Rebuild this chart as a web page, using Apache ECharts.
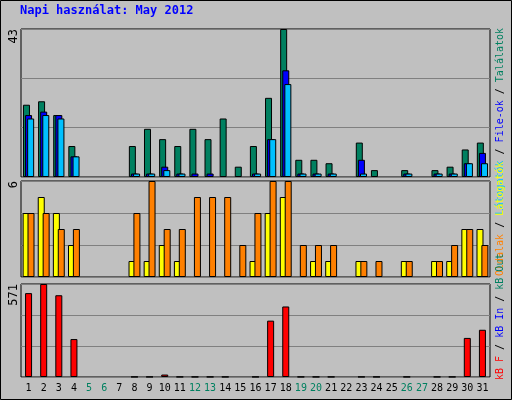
<!DOCTYPE html><html><head><meta charset="utf-8">
<script src="https://cdn.jsdelivr.net/npm/echarts@6/dist/echarts.min.js"></script>
<style>html,body{margin:0;padding:0;background:#c0c0c0}#c{width:512px;height:400px}</style></head><body><div id="c"></div>
<script>
const days=['1','2','3','4','5','6','7','8','9','10','11','12','13','14','15','16','17','18','19','20','21','22','23','24','25','26','27','28','29','30','31'];
const weekend=['5','6','12','13','19','20','26','27'];
const hits=[21,22,18,9,0,0,0,9,14,11,9,14,11,17,3,9,23,43,5,5,4,0,10,2,0,2,0,2,3,8,10];
const files=[18,19,18,6,0,0,0,1,1,3,1,1,1,0,0,1,11,31,1,1,1,0,5,0,0,1,0,1,1,4,7];
const sites=[17,18,17,6,0,0,0,1,1,2,1,0,0,0,0,1,11,27,1,1,1,0,1,0,0,1,0,1,1,4,4];
const visits=[4,5,4,2,0,0,0,1,1,2,1,0,0,0,0,1,4,5,0,1,1,0,1,0,0,1,0,1,1,3,3];
const pages=[4,4,3,3,0,0,0,4,6,3,3,5,5,5,2,4,6,6,2,2,2,0,1,1,0,1,0,1,2,3,2];
const kbytes=[515,571,502,233,0,0,0,1,1,15,1,1,1,1,0,1,346,433,1,1,1,0,1,1,0,1,0,1,1,240,290];
const ch=echarts.init(document.getElementById('c'));
const mono='DejaVu Sans Mono';
const L=21,R=22;
const grids=[{left:L,right:R,top:29,height:148},{left:L,right:R,top:181,height:96},{left:L,right:R,top:284,height:93}];
const maxes=[43,6,571];
function bar(data,color,gi,w,gap){return {type:'bar',data:data.map(v=>v===0?null:v),xAxisIndex:gi,yAxisIndex:gi,barWidth:w,barGap:gap,silent:true,
 itemStyle:{color:color,borderColor:'#000',borderWidth:1},animation:false};}
const rich={w:{color:'#008060',fontFamily:mono,fontSize:10},n:{color:'#000',fontFamily:mono,fontSize:10}};
ch.setOption({
 backgroundColor:'#c0c0c0',animation:false,
 grid:grids.map(g=>Object.assign({show:true,backgroundColor:'#c0c0c0',borderColor:'#000',borderWidth:1},g)),
 xAxis:[0,1,2].map(i=>({type:'category',gridIndex:i,data:days,axisLine:{show:false},axisTick:{show:false},
   axisLabel:i<2?{show:false}:{margin:6,interval:0,formatter:v=>weekend.includes(v)?'{w|'+v+'}':'{n|'+v+'}',rich:rich}})),
 yAxis:[0,1,2].map(i=>({type:'value',gridIndex:i,min:0,max:maxes[i],interval:maxes[i]/3,axisLabel:{show:false},
   axisLine:{show:false},axisTick:{show:false},splitLine:{lineStyle:{color:'#808080',width:1}}})),
 series:[bar(hits,'#008060',0,7,'-70%'),bar(files,'#0000ff',0,7,'-70%'),bar(sites,'#00c0ff',0,7,'-70%'),
  bar(visits,'#ffff00',1,7,'-30%'),bar(pages,'#ff8000',1,7,'-30%'),bar(kbytes,'#ff0000',2,7,'-30%')],
 graphic:[
  {type:'rect',shape:{x:0.5,y:0.5,width:511,height:399},style:{fill:'none',stroke:'#000',lineWidth:1}},
  {type:'text',left:20,top:5,style:{text:'Napi használat: May 2012',fill:'#0000ff',font:'bold 12px "DejaVu Sans Mono"'}},
  {type:'text',x:14,y:29,rotation:Math.PI/2,style:{text:'43',align:'right',verticalAlign:'middle',fill:'#000',font:'12px "DejaVu Sans Mono"'}},
  {type:'text',x:14,y:181,rotation:Math.PI/2,style:{text:'6',align:'right',verticalAlign:'middle',fill:'#000',font:'12px "DejaVu Sans Mono"'}},
  {type:'text',x:14,y:284,rotation:Math.PI/2,style:{text:'571',align:'right',verticalAlign:'middle',fill:'#000',font:'12px "DejaVu Sans Mono"'}},
  {type:'text',x:500,y:28,rotation:Math.PI/2,style:{text:'{c|Látogatók}{k| / }{b|File-ok}{k| / }{g|Találatok}',align:'right',verticalAlign:'middle',
    rich:{c:{fill:'#00c0ff',font:'10px "DejaVu Sans Mono"'},k:{fill:'#000',font:'10px "DejaVu Sans Mono"'},b:{fill:'#0000ff',font:'10px "DejaVu Sans Mono"'},g:{fill:'#008060',font:'10px "DejaVu Sans Mono"'}}}},
  {type:'text',x:500,y:276,rotation:Math.PI/2,style:{text:'{o|Oldalak}{k| / }{y|Látogatók}',align:'left',verticalAlign:'middle',
    rich:{o:{fill:'#ff8000',font:'10px "DejaVu Sans Mono"'},k:{fill:'#000',font:'10px "DejaVu Sans Mono"'},y:{fill:'#ffff00',font:'10px "DejaVu Sans Mono"'}}}},
  {type:'text',x:500,y:380,rotation:Math.PI/2,style:{text:'{r|kB F}{k| / }{b|kB In}{k| / }{g|kB Out}',align:'left',verticalAlign:'middle',
    rich:{r:{fill:'#ff0000',font:'10px "DejaVu Sans Mono"'},k:{fill:'#000',font:'10px "DejaVu Sans Mono"'},b:{fill:'#0000ff',font:'10px "DejaVu Sans Mono"'},g:{fill:'#008060',font:'10px "DejaVu Sans Mono"'}}}}
 ]
});
</script></body></html>
